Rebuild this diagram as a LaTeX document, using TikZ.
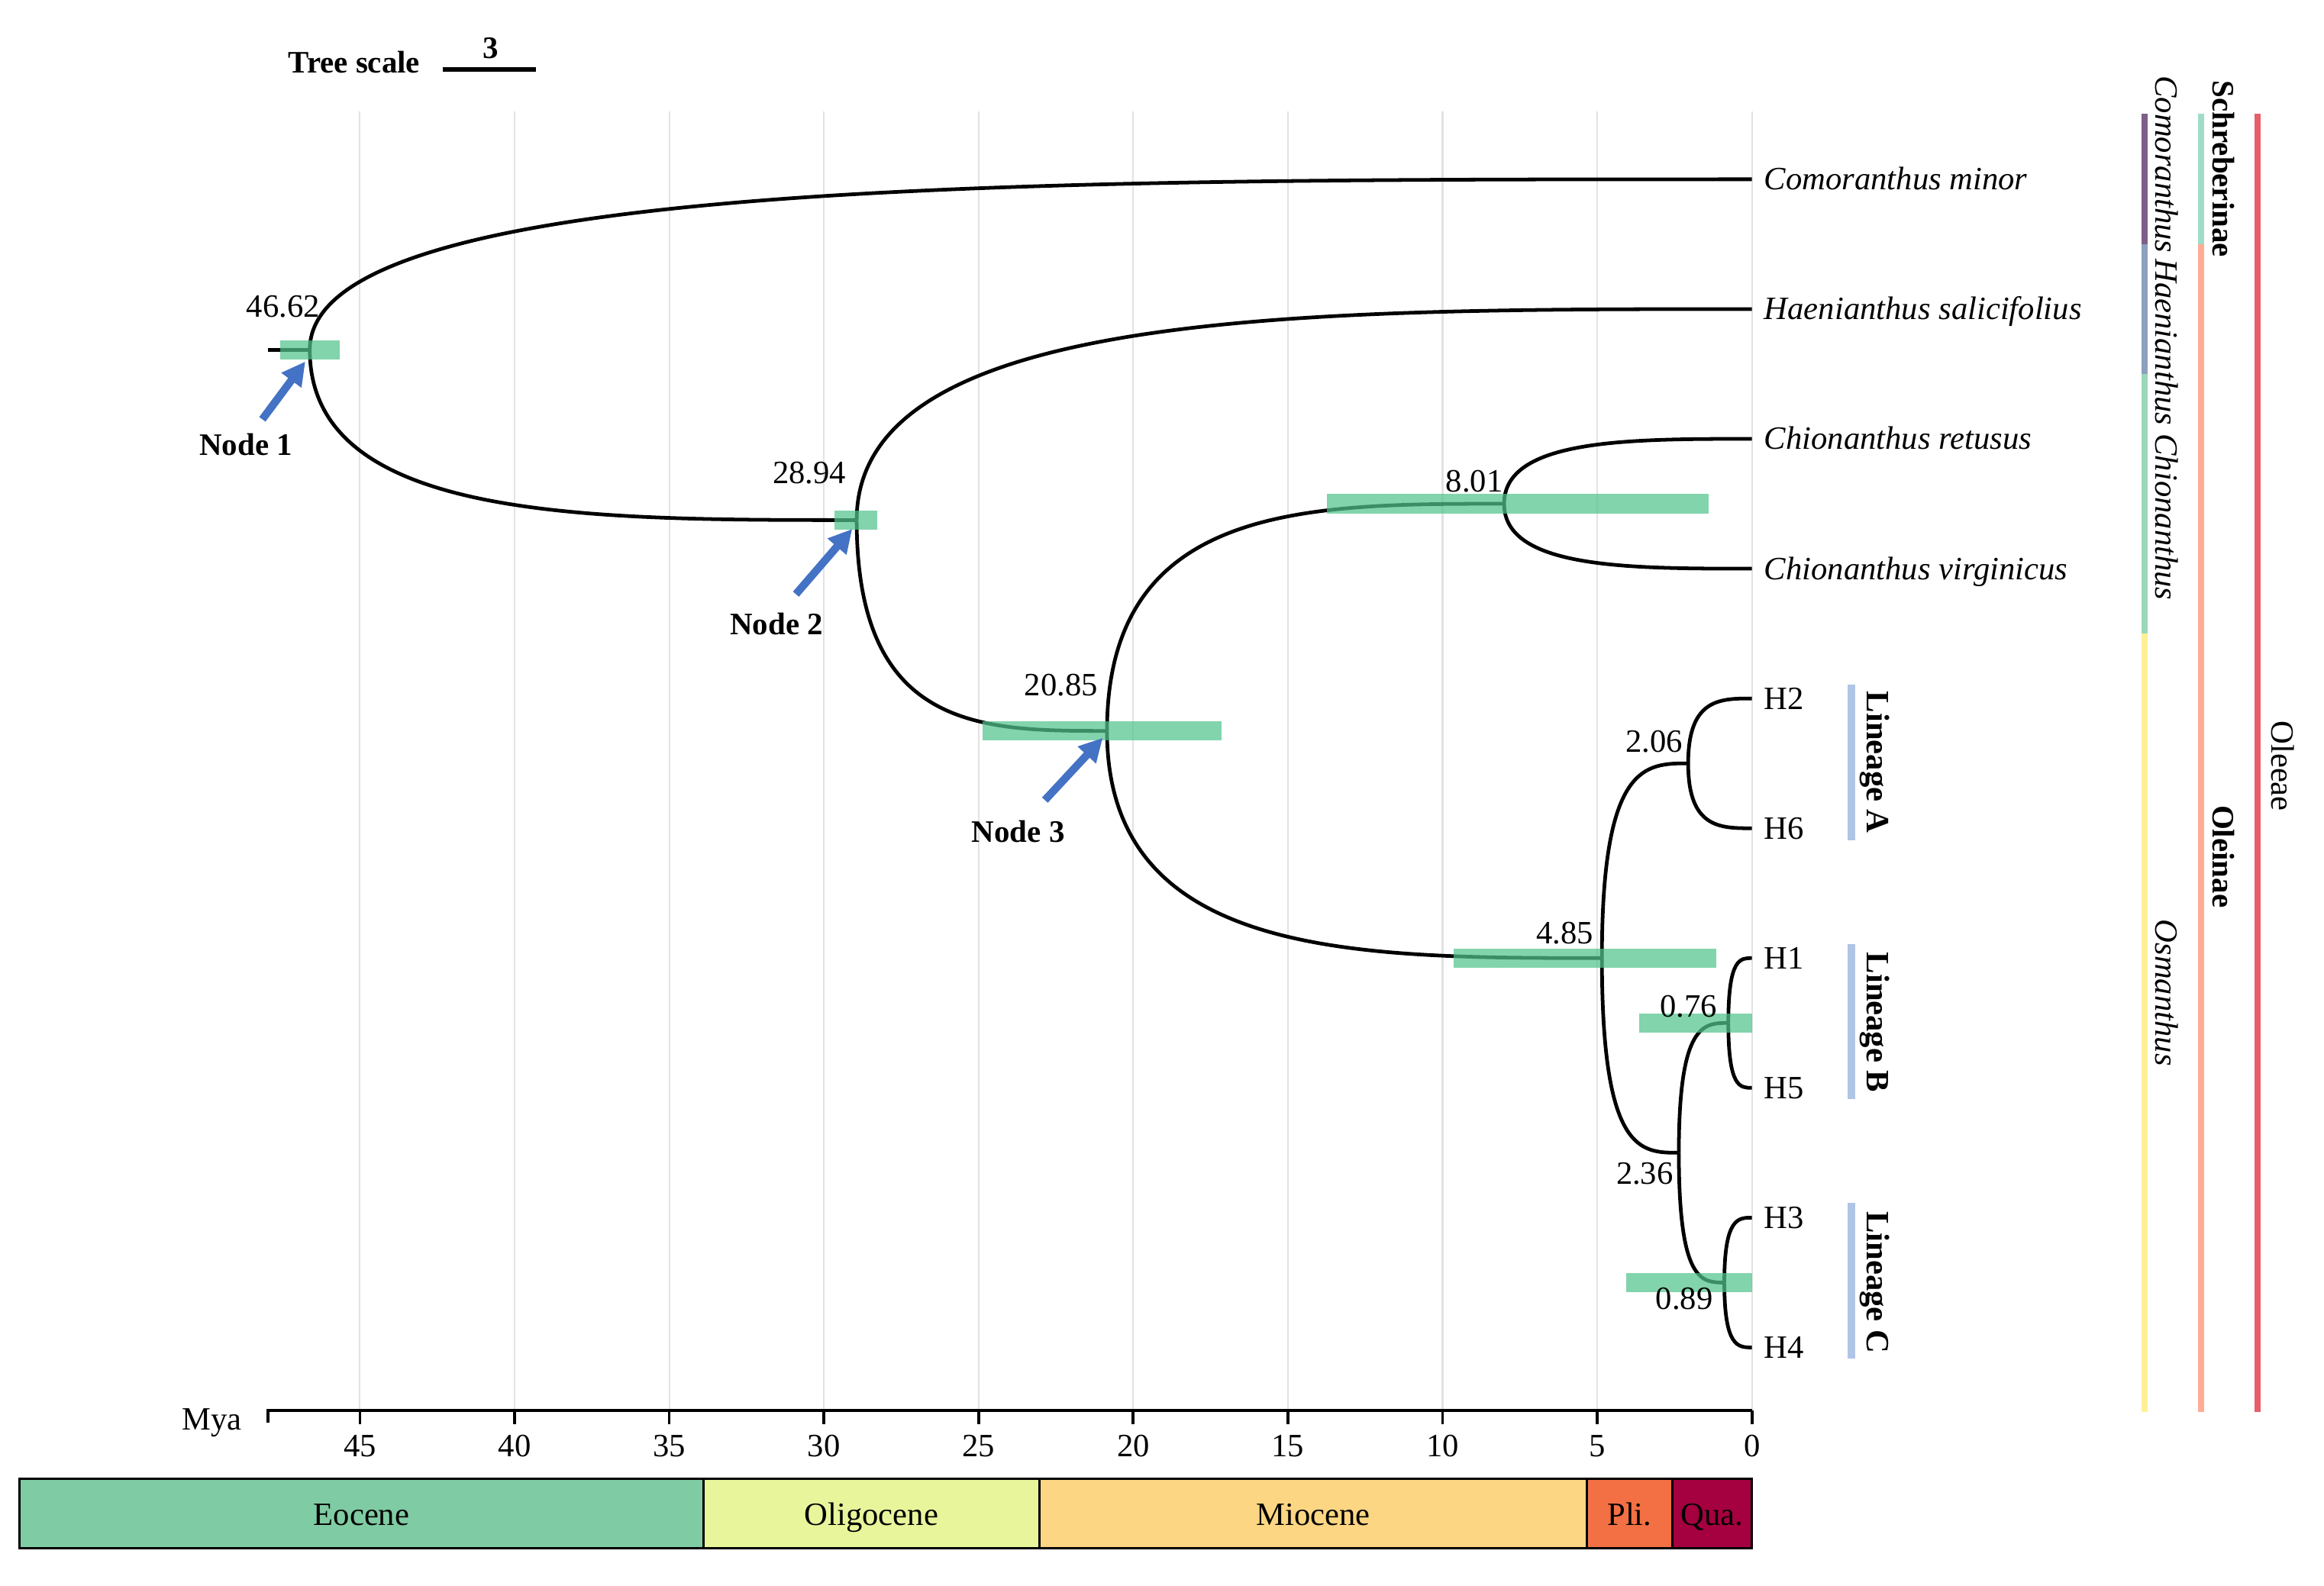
\documentclass[tikz,border=0pt]{standalone}
\usepackage{fontspec}
\setmainfont{Liberation Serif}
\usetikzlibrary{calc,arrows.meta}
\definecolor{hpd}{RGB}{82,196,142}
\definecolor{gridgray}{RGB}{226,226,226}
\definecolor{arrowblue}{RGB}{68,114,196}
\definecolor{linblue}{RGB}{176,196,230}
\definecolor{eocene}{RGB}{127,203,163}
\definecolor{oligo}{RGB}{232,245,155}
\definecolor{mio}{RGB}{253,214,131}
\definecolor{pli}{RGB}{242,112,68}
\definecolor{qua}{RGB}{165,0,64}
\definecolor{cpurple}{RGB}{125,95,135}
\definecolor{cbluegray}{RGB}{140,160,192}
\definecolor{cgreen}{RGB}{155,215,185}
\definecolor{cyellow}{RGB}{255,240,150}
\definecolor{cteal}{RGB}{160,220,200}
\definecolor{csalmon}{RGB}{255,172,150}
\definecolor{cred}{RGB}{230,95,105}
\newcommand\branchcurve[2]{\draw[branch] let \p1=(#1),\p2=(#2) in (\p1) .. controls (\x1,\y2) and ({0.5*\x1+0.5*\x2},\y2) .. (\p2);}
\begin{document}
\begin{tikzpicture}[x=0.02cm,y=-0.02cm,
  every node/.style={font=\fontsize{12.5}{15}\selectfont, inner sep=0pt},
  capc/.style={text height=8.2pt, text depth=0pt},
  branch/.style={line width=1.4pt, black},
  gridline/.style={line width=0.6pt, gridgray},
  hpdbar/.style={fill=hpd, fill opacity=0.72, draw=none},
  tiplbl/.style={anchor=west, capc},
  spname/.style={tiplbl, font=\fontsize{12.5}{15}\selectfont\itshape},
  nodelbl/.style={capc, font=\fontsize{12}{14}\selectfont\bfseries},
  nodearrow/.style={line width=3pt, arrowblue, -{Triangle[length=9pt,width=9pt]}},
  linbar/.style={line width=2.8pt, linblue},
  linlbl/.style={rotate=-90, font=\fontsize{12.5}{15}\selectfont\bfseries},
  cladebar/.style={line width=2.4pt},
  genlbl/.style={rotate=-90, font=\fontsize{12.5}{15}\selectfont\itshape},
  epoch/.style={draw=black, line width=0.9pt},
]
\useasboundingbox (0,0) rectangle (1568,1070);

% grid lines
\foreach \t in {0,5,...,45} {
  \draw[gridline] ({1182-20.87*\t},75) -- ({1182-20.87*\t},952);
}

% tree scale
\node[capc, font=\fontsize{12}{14}\selectfont\bfseries] (tslbl) at (239,42) {Tree scale};
\coordinate (tsa) at (299,47);
\coordinate (tsb) at (361.6,47);
\draw[line width=1.8pt] (tsa) -- (tsb);
\node[capc, font=\fontsize{12}{14}\selectfont\bfseries] (tsnum) at (331,32) {3};

% internal nodes
\coordinate (root) at (181,236);
\coordinate (n1) at (209,236);
\coordinate (n2) at (578,351);
\coordinate (n3) at (746.9,493.3);
\coordinate (nc) at (1014.8,340);
\coordinate (n485) at (1080.8,646.6);
\coordinate (na) at (1139,515.2);
\coordinate (n236) at (1132.7,778);
\coordinate (nb) at (1166.1,690.4);
\coordinate (ncc) at (1163.4,865.6);

% tips
\coordinate (t1) at (1182,121);
\coordinate (t2) at (1182,208.6);
\coordinate (t3) at (1182,296.2);
\coordinate (t4) at (1182,383.8);
\coordinate (t5) at (1182,471.4);
\coordinate (t6) at (1182,559);
\coordinate (t7) at (1182,646.6);
\coordinate (t8) at (1182,734.2);
\coordinate (t9) at (1182,821.8);
\coordinate (t10) at (1182,909.4);

% branches
\draw[branch] (root) -- (n1);
\branchcurve{n1}{t1}
\branchcurve{n1}{n2}
\branchcurve{n2}{t2}
\branchcurve{n2}{n3}
\branchcurve{n3}{nc}
\branchcurve{nc}{t3}
\branchcurve{nc}{t4}
\branchcurve{n3}{n485}
\branchcurve{n485}{na}
\branchcurve{na}{t5}
\branchcurve{na}{t6}
\branchcurve{n485}{n236}
\branchcurve{n236}{nb}
\branchcurve{nb}{t7}
\branchcurve{nb}{t8}
\branchcurve{n236}{ncc}
\branchcurve{ncc}{t9}
\branchcurve{ncc}{t10}

% HPD bars
\fill[hpdbar] (189,229.5) rectangle (229,242.5);
\fill[hpdbar] (563,344.5) rectangle (592,357.5);
\fill[hpdbar] (663,486.8) rectangle (824,499.8);
\fill[hpdbar] (895,333.5) rectangle (1153,346.5);
\fill[hpdbar] (981,640.1) rectangle (1158,653.1);
\fill[hpdbar] (1106,683.9) rectangle (1182,696.9);
\fill[hpdbar] (1097,859.1) rectangle (1182,872.1);

% node ages
\node[capc] (a1) at ($(n1)+(-18,-29)$) {46.62};
\node[capc] (a2) at ($(n2)+(-32,-32)$) {28.94};
\node[capc] (a3) at ($(n3)+(-31,-31)$) {20.85};
\node[capc] (a4) at ($(nc)+(-20,-15)$) {8.01};
\node[capc] (a5) at ($(n485)+(-25,-17)$) {4.85};
\node[capc] (a6) at ($(na)+(-23,-15)$) {2.06};
\node[capc] (a7) at ($(nb)+(-27,-11)$) {0.76};
\node[capc] (a8) at ($(n236)+(-23,14)$) {2.36};
\node[capc] (a9) at ($(ncc)+(-27,11)$) {0.89};

% tip labels
\node[spname] (L1) at (1190,121) {Comoranthus minor};
\node[spname] (L2) at (1190,208.6) {Haenianthus salicifolius};
\node[spname] (L3) at (1190,296.2) {Chionanthus retusus};
\node[spname] (L4) at (1190,383.8) {Chionanthus virginicus};
\node[tiplbl] (L5) at (1190,471.4) {H2};
\node[tiplbl] (L6) at (1190,559) {H6};
\node[tiplbl] (L7) at (1190,646.6) {H1};
\node[tiplbl] (L8) at (1190,734.2) {H5};
\node[tiplbl] (L9) at (1190,821.8) {H3};
\node[tiplbl] (L10) at (1190,909.4) {H4};

% node annotations with arrows
\node[nodelbl] (k1) at (166,300) {Node 1};
\node[nodelbl] (k2) at (524,421) {Node 2};
\node[nodelbl] (k3) at (687,561) {Node 3};
\coordinate (k1s) at (177,283);
\coordinate (k1e) at (206,244);
\coordinate (k2s) at (537,401);
\coordinate (k2e) at (575,357);
\coordinate (k3s) at (705,540);
\coordinate (k3e) at (744,498);
\draw[nodearrow] (k1s) -- (k1e);
\draw[nodearrow] (k2s) -- (k2e);
\draw[nodearrow] (k3s) -- (k3e);

% lineage bars
\draw[linbar] (1249,462) -- (1249,567);
\draw[linbar] (1249,637) -- (1249,742);
\draw[linbar] (1249,812) -- (1249,917);
\node[linlbl] (la) at (1265,514.5) {Lineage A};
\node[linlbl] (lb) at (1265,690) {Lineage B};
\node[linlbl] (lc) at (1265,865.5) {Lineage C};

% clade bars (right)
\draw[cladebar, cpurple] (1447,77) -- (1447,164.8);
\draw[cladebar, cbluegray] (1447,164.8) -- (1447,252.4);
\draw[cladebar, cgreen] (1447,252.4) -- (1447,427.6);
\draw[cladebar, cyellow] (1447,427.6) -- (1447,953);
\draw[cladebar, cteal] (1485,77) -- (1485,164.8);
\draw[cladebar, csalmon] (1485,164.8) -- (1485,953);
\draw[cladebar, cred] (1523,77) -- (1523,953);

\node[genlbl] (g1) at (1462,111) {Comoranthus};
\node[genlbl] (g2) at (1462,231) {Haenianthus};
\node[genlbl] (g3) at (1462,349) {Chionanthus};
\node[genlbl] (g4) at (1462,670) {Osmanthus};
\node[rotate=-90, font=\fontsize{12}{14}\selectfont\bfseries] (s1) at (1500,114) {Schreberinae};
\node[rotate=-90, font=\fontsize{12}{14}\selectfont\bfseries] (s2) at (1500,578) {Oleinae};
\node[rotate=-90] (s3) at (1540,517) {Oleeae};

% time axis
\draw[line width=1.2pt] (181,960) -- (181,952) -- (1182,952);
\foreach \t in {0,5,...,45} {
  \draw[line width=1.1pt] ({1182-20.87*\t},952) -- ({1182-20.87*\t},961);
  \node[capc] at ({1182-20.87*\t},976) {\t};
}
\node[capc] (mya) at (143,958) {Mya};

% epochs
\draw[epoch, fill=eocene] ({1182-20.87*56},998) rectangle ({1182-20.87*33.9},1045);
\draw[epoch, fill=oligo] ({1182-20.87*33.9},998) rectangle ({1182-20.87*23.03},1045);
\draw[epoch, fill=mio] ({1182-20.87*23.03},998) rectangle ({1182-20.87*5.333},1045);
\draw[epoch, fill=pli] ({1182-20.87*5.333},998) rectangle ({1182-20.87*2.58},1045);
\draw[epoch, fill=qua] ({1182-20.87*2.58},998) rectangle (1182,1045);
\node[capc] (e1) at ({1182-20.87*44.95},1022) {Eocene};
\node[capc] (e2) at ({1182-20.87*28.465},1022) {Oligocene};
\node[capc] (e3) at ({1182-20.87*14.18},1022) {Miocene};
\node[capc] (e4) at ({1182-20.87*3.956},1022) {Pli.};
\node[capc] (e5) at ({1182-20.87*1.29},1022) {Qua.};
\end{tikzpicture}
\end{document}
